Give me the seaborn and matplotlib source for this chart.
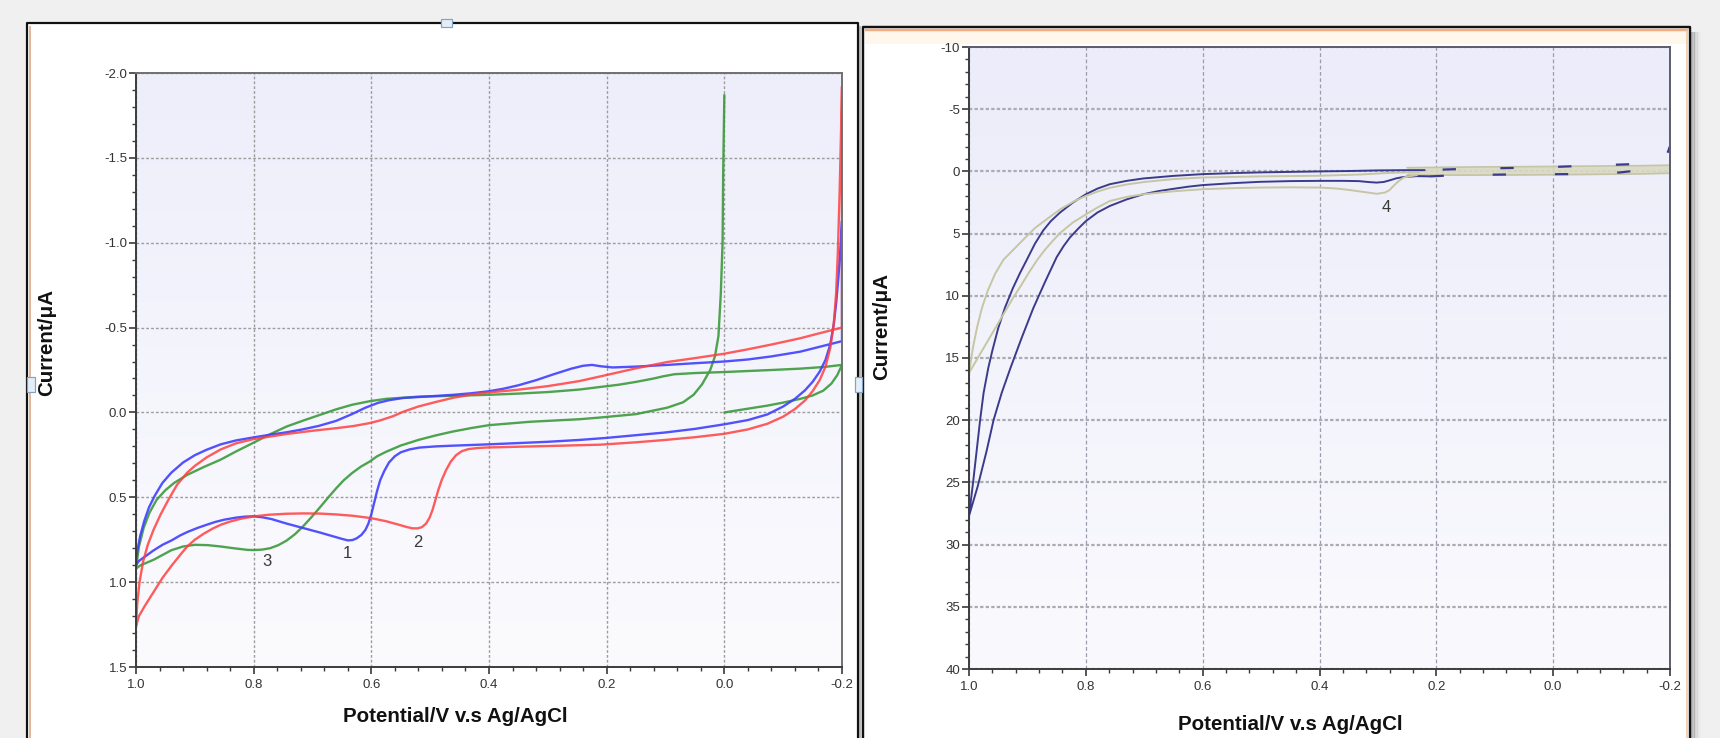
import numpy as np
import matplotlib
matplotlib.use("Agg")
import matplotlib.pyplot as plt
import seaborn as sns
from matplotlib.patches import Rectangle
from matplotlib.lines import Line2D
from matplotlib.ticker import MultipleLocator
from matplotlib.colors import LinearSegmentedColormap

# ---------------------------------------------------------------- data
# Each branch: rows of (potential / V vs Ag/AgCl, current / uA), in sweep order.

# Left panel, curve 1 (blue)
blue_forward = np.array([
    [1.000, 0.900], [0.995, 0.875], [0.985, 0.850], [0.971, 0.815], [0.955, 0.780],
    [0.940, 0.755], [0.925, 0.725], [0.913, 0.705], [0.895, 0.680], [0.880, 0.662],
    [0.865, 0.645], [0.850, 0.632], [0.830, 0.620], [0.815, 0.614], [0.800, 0.612],
    [0.785, 0.618], [0.770, 0.628], [0.744, 0.655], [0.715, 0.682], [0.687, 0.708],
    [0.665, 0.730], [0.650, 0.745], [0.640, 0.754], [0.632, 0.752], [0.625, 0.742],
    [0.617, 0.722], [0.610, 0.692], [0.605, 0.655], [0.600, 0.600], [0.595, 0.530],
    [0.590, 0.460], [0.585, 0.400], [0.578, 0.345], [0.570, 0.295], [0.560, 0.258],
    [0.550, 0.235], [0.535, 0.218], [0.518, 0.207], [0.490, 0.200], [0.462, 0.196],
    [0.400, 0.188], [0.300, 0.173], [0.246, 0.162], [0.200, 0.150], [0.100, 0.118],
    [0.050, 0.097], [0.000, 0.070], [-0.040, 0.045], [-0.073, 0.012], [-0.100, -0.035],
    [-0.120, -0.080], [-0.137, -0.130], [-0.150, -0.180], [-0.162, -0.240], [-0.172, -0.310],
    [-0.180, -0.400], [-0.186, -0.520], [-0.190, -0.640], [-0.194, -0.800], [-0.197, -0.950],
    [-0.200, -1.130]])
blue_reverse = np.array([
    [-0.200, -0.420], [-0.160, -0.385], [-0.129, -0.358], [-0.080, -0.330], [-0.040, -0.312],
    [0.000, -0.300], [0.050, -0.290], [0.097, -0.280], [0.150, -0.270], [0.190, -0.265],
    [0.210, -0.272], [0.225, -0.280], [0.240, -0.275], [0.260, -0.258], [0.290, -0.225],
    [0.320, -0.190], [0.350, -0.160], [0.375, -0.140], [0.400, -0.125], [0.430, -0.113],
    [0.460, -0.104], [0.500, -0.095], [0.546, -0.085], [0.570, -0.072], [0.588, -0.057],
    [0.610, -0.028], [0.633, 0.010], [0.660, 0.050], [0.690, 0.080], [0.717, 0.100],
    [0.744, 0.117], [0.770, 0.130], [0.800, 0.147], [0.830, 0.165], [0.856, 0.188],
    [0.880, 0.220], [0.900, 0.252], [0.920, 0.295], [0.940, 0.355], [0.955, 0.415],
    [0.968, 0.490], [0.978, 0.560], [0.986, 0.640], [0.993, 0.730], [0.998, 0.820],
    [1.000, 0.880]])

# Left panel, curve 2 (red)
red_forward = np.array([
    [1.000, 1.260], [0.995, 1.200], [0.985, 1.140], [0.975, 1.085], [0.965, 1.030],
    [0.955, 0.975], [0.940, 0.905], [0.925, 0.840], [0.913, 0.790], [0.900, 0.750],
    [0.885, 0.715], [0.870, 0.685], [0.856, 0.662], [0.840, 0.643], [0.820, 0.625],
    [0.800, 0.613], [0.775, 0.603], [0.744, 0.597], [0.715, 0.595], [0.687, 0.596],
    [0.660, 0.601], [0.631, 0.609], [0.600, 0.623], [0.575, 0.641], [0.555, 0.660],
    [0.540, 0.675], [0.530, 0.683], [0.521, 0.683], [0.514, 0.676], [0.507, 0.655],
    [0.501, 0.620], [0.496, 0.575], [0.491, 0.515], [0.486, 0.455], [0.480, 0.395],
    [0.473, 0.340], [0.465, 0.290], [0.456, 0.252], [0.446, 0.228], [0.435, 0.216],
    [0.420, 0.210], [0.406, 0.207], [0.350, 0.202], [0.300, 0.198], [0.211, 0.190],
    [0.150, 0.176], [0.100, 0.162], [0.050, 0.146], [0.000, 0.126], [-0.040, 0.100],
    [-0.073, 0.067], [-0.100, 0.025], [-0.120, -0.020], [-0.137, -0.070], [-0.150, -0.125],
    [-0.162, -0.190], [-0.172, -0.270], [-0.180, -0.380], [-0.186, -0.520], [-0.190, -0.700],
    [-0.193, -0.950], [-0.196, -1.300], [-0.198, -1.600], [-0.200, -1.920]])
red_reverse = np.array([
    [-0.200, -0.500], [-0.160, -0.465], [-0.129, -0.437], [-0.080, -0.400], [-0.040, -0.372],
    [0.000, -0.346], [0.050, -0.320], [0.097, -0.297], [0.150, -0.260], [0.211, -0.212],
    [0.246, -0.185], [0.300, -0.155], [0.350, -0.134], [0.400, -0.118], [0.430, -0.105],
    [0.460, -0.087], [0.490, -0.062], [0.520, -0.035], [0.545, -0.005], [0.563, 0.022],
    [0.585, 0.047], [0.603, 0.063], [0.630, 0.080], [0.660, 0.093], [0.700, 0.108],
    [0.744, 0.127], [0.800, 0.157], [0.830, 0.182], [0.856, 0.218], [0.880, 0.265],
    [0.900, 0.315], [0.913, 0.355], [0.930, 0.425], [0.945, 0.515], [0.958, 0.600],
    [0.970, 0.690], [0.980, 0.780], [0.988, 0.880], [0.994, 1.000], [0.998, 1.130],
    [1.000, 1.260]])

# Left panel, curve 3 (green)
green_start = np.array([
    [0.000, 0.000], [-0.040, -0.022], [-0.073, -0.040], [-0.100, -0.058], [-0.129, -0.080],
    [-0.150, -0.100], [-0.168, -0.128], [-0.182, -0.170], [-0.192, -0.220], [-0.200, -0.280]])
green_reverse = np.array([
    [-0.200, -0.280], [-0.170, -0.268], [-0.129, -0.258], [-0.080, -0.250], [-0.040, -0.244],
    [0.000, -0.238], [0.050, -0.232], [0.085, -0.225], [0.105, -0.212], [0.120, -0.200],
    [0.150, -0.180], [0.180, -0.163], [0.211, -0.150], [0.246, -0.135], [0.300, -0.120],
    [0.350, -0.111], [0.400, -0.104], [0.460, -0.098], [0.520, -0.093], [0.575, -0.080],
    [0.603, -0.066], [0.633, -0.045], [0.660, -0.018], [0.687, 0.014], [0.715, 0.047],
    [0.744, 0.083], [0.770, 0.125], [0.800, 0.178], [0.830, 0.230], [0.856, 0.278],
    [0.885, 0.322], [0.913, 0.368], [0.935, 0.415], [0.950, 0.458], [0.965, 0.515],
    [0.977, 0.590], [0.987, 0.680], [0.995, 0.790], [1.000, 0.920]])
green_forward = np.array([
    [1.000, 0.920], [0.992, 0.900], [0.985, 0.890], [0.970, 0.868], [0.955, 0.840],
    [0.940, 0.812], [0.920, 0.790], [0.900, 0.780], [0.878, 0.782], [0.856, 0.790],
    [0.830, 0.802], [0.810, 0.810], [0.800, 0.811], [0.785, 0.808], [0.772, 0.800],
    [0.758, 0.782], [0.744, 0.755], [0.730, 0.718], [0.717, 0.675], [0.702, 0.618],
    [0.687, 0.558], [0.673, 0.500], [0.660, 0.448], [0.647, 0.400], [0.633, 0.358],
    [0.618, 0.320], [0.603, 0.290], [0.590, 0.258], [0.575, 0.232], [0.550, 0.195],
    [0.520, 0.162], [0.490, 0.135], [0.462, 0.113], [0.430, 0.092], [0.400, 0.075],
    [0.330, 0.055], [0.246, 0.040], [0.211, 0.030], [0.150, 0.010], [0.097, -0.028],
    [0.070, -0.060], [0.052, -0.105], [0.038, -0.165], [0.024, -0.250], [0.016, -0.330],
    [0.010, -0.450], [0.006, -0.700], [0.003, -1.000], [0.002, -1.400], [0.000, -1.870]])

# Right panel, navy curve
navy_upper = np.array([
    [0.220, -0.10], [0.250, -0.10], [0.300, -0.08], [0.350, -0.03], [0.400, 0.00],
    [0.450, 0.04], [0.503, 0.08], [0.550, 0.14], [0.600, 0.22], [0.650, 0.36],
    [0.702, 0.57], [0.730, 0.76], [0.759, 1.03], [0.780, 1.38], [0.800, 1.84],
    [0.822, 2.50], [0.844, 3.30], [0.860, 4.00], [0.873, 4.75], [0.887, 5.80],
    [0.901, 7.10], [0.913, 8.20], [0.925, 9.40], [0.938, 10.90], [0.950, 12.60],
    [0.960, 14.40], [0.967, 15.80], [0.975, 17.80], [0.981, 20.00], [0.987, 22.50],
    [0.993, 25.00], [1.000, 27.70]])
navy_lower = np.array([
    [1.000, 27.70], [0.985, 25.30], [0.970, 22.50], [0.958, 20.00], [0.944, 17.80],
    [0.929, 15.80], [0.910, 13.40], [0.890, 11.00], [0.870, 8.90], [0.850, 6.90],
    [0.838, 6.00], [0.827, 5.30], [0.813, 4.60], [0.800, 4.00], [0.780, 3.30],
    [0.759, 2.78], [0.730, 2.25], [0.702, 1.84], [0.675, 1.58], [0.650, 1.40],
    [0.625, 1.23], [0.600, 1.10], [0.550, 0.95], [0.503, 0.84], [0.450, 0.78],
    [0.400, 0.76], [0.360, 0.76], [0.333, 0.78], [0.315, 0.86], [0.302, 0.90],
    [0.290, 0.85], [0.280, 0.72], [0.268, 0.55], [0.256, 0.45], [0.233, 0.38],
    [0.210, 0.40]])
navy_tail_lower = np.array([
    [0.210, 0.40], [0.159, 0.29], [0.056, 0.24], [-0.058, 0.21], [-0.115, 0.08],
    [-0.160, -0.16], [-0.185, -0.45], [-0.195, -1.00], [-0.200, -2.00]])
navy_tail_upper = np.array([
    [-0.200, -2.00], [-0.190, -0.80], [-0.140, -0.59], [-0.069, -0.48], [0.019, -0.32],
    [0.145, -0.21], [0.220, -0.10]])

# Right panel, khaki curve
khaki_upper = np.array([
    [0.230, 0.05], [0.280, 0.12], [0.330, 0.25], [0.400, 0.35], [0.500, 0.40],
    [0.600, 0.49], [0.650, 0.62], [0.700, 0.85], [0.730, 1.05], [0.759, 1.32],
    [0.780, 1.62], [0.800, 1.97], [0.820, 2.40], [0.844, 3.05], [0.870, 3.95],
    [0.887, 4.55], [0.901, 5.20], [0.920, 6.10], [0.941, 7.10], [0.955, 8.20],
    [0.968, 9.60], [0.978, 11.00], [0.986, 12.50], [0.993, 14.10], [1.000, 16.20]])
khaki_lower = np.array([
    [1.000, 16.20], [0.985, 15.00], [0.970, 13.80], [0.955, 12.60], [0.940, 11.40],
    [0.925, 10.20], [0.910, 9.10], [0.897, 8.10], [0.883, 7.10], [0.870, 6.30],
    [0.857, 5.60], [0.844, 4.95], [0.822, 4.10], [0.800, 3.46], [0.780, 2.90],
    [0.759, 2.38], [0.730, 2.05], [0.702, 1.84], [0.650, 1.60], [0.600, 1.43],
    [0.550, 1.35], [0.503, 1.30], [0.450, 1.28], [0.400, 1.30], [0.370, 1.38],
    [0.348, 1.50], [0.325, 1.65], [0.302, 1.80], [0.288, 1.70], [0.280, 1.50],
    [0.273, 1.15], [0.265, 0.80], [0.256, 0.50], [0.245, 0.38], [0.233, 0.30]])
khaki_band_E = [0.250, 0.150, 0.050, -0.050, -0.150, -0.200]
khaki_band_top = [-0.30, -0.35, -0.38, -0.42, -0.46, -0.50]
khaki_band_bottom = [0.30, 0.30, 0.28, 0.25, 0.20, 0.15]

# axis ticks
x_ticks = [1.0, 0.8, 0.6, 0.4, 0.2, 0.0, -0.2]
x_labels = ["1.0", "0.8", "0.6", "0.4", "0.2", "0.0", "-0.2"]
left_yticks = [-2.0, -1.5, -1.0, -0.5, 0.0, 0.5, 1.0, 1.5]
left_ylabels = ["-2.0", "-1.5", "-1.0", "-0.5", "0.0", "0.5", "1.0", "1.5"]
right_yticks = [-10, -5, 0, 5, 10, 15, 20, 25, 30, 35, 40]
right_ylabels = ["-10", "-5", "0", "5", "10", "15", "20", "25", "30", "35", "40"]

peak_labels_left = [("1", 0.640, 0.83), ("2", 0.521, 0.768), ("3", 0.778, 0.88)]
peak_labels_right = [("4", 0.286, 2.94)]

# ---------------------------------------------------------------- figure
sns.set_theme(style="white")
plt.rcParams['font.family'] = ['Liberation Sans', 'DejaVu Sans']

W, H = 1720, 738
fig = plt.figure(figsize=(W / 100, H / 100), dpi=100)
fig.patch.set_facecolor('#f0f0f0')


def fx(x):
    return x / W


def fy(y):
    return 1 - y / H


def px(n):
    return n * 0.72


def fig_line(xs, ys, color, lw, z=-4):
    fig.add_artist(Line2D([fx(v) for v in xs], [fy(v) for v in ys],
                          transform=fig.transFigure, color=color,
                          lw=px(lw), zorder=z, solid_capstyle='butt'))


def fig_rect(x0, y0, x1, y1, color, z=-5, edge='none', lw=0):
    fig.add_artist(Rectangle((fx(x0), fy(y1)), fx(x1) - fx(x0), fy(y0) - fy(y1),
                             transform=fig.transFigure, facecolor=color,
                             edgecolor=edge, lw=px(lw), zorder=z))


# left card
fig_rect(27, 23, 858, 738, 'white')
fig_line([860, 860], [26, 738], '#bdbdbd', 2)
fig_line([27, 27, 858, 858], [738, 23, 23, 738], '#111111', 2.2)
fig_line([30, 30], [26, 738], '#d9a27c', 1.5)

# right card with soft shadow
for i, a in enumerate([0.45, 0.32, 0.22, 0.14, 0.08, 0.04]):
    fig_line([1692 + i * 1.5, 1692 + i * 1.5], [32, 738], (0.35, 0.35, 0.35, a), 1.6)
fig_rect(863, 27, 1690, 738, 'white')
fig_rect(865, 31, 1688, 44, '#fff7ec')
fig_line([865, 1688], [30, 30], '#f3ae80', 2.5)
fig_line([1687, 1687], [30, 738], '#f2c49c', 1.5)
fig_line([863, 863, 1690, 1690], [738, 27, 27, 738], '#111111', 2.4)

# selection handles on the left card
for (hx0, hy0, hx1, hy1) in [(441, 19, 452, 27), (27, 377, 35, 392), (855, 377, 862, 392)]:
    fig_rect(hx0, hy0, hx1, hy1, '#e4eef8', z=-3, edge='#86a2c2', lw=1.2)

ax1 = fig.add_axes([fx(136), fy(667), fx(842) - fx(136), fy(73) - fy(667)])
ax2 = fig.add_axes([fx(969), fy(669), fx(1670) - fx(969), fy(47) - fy(669)])


def paint_gradient(ax, top, bottom):
    grad = np.linspace(0, 1, 256)[:, None]
    cmap = LinearSegmentedColormap.from_list('panel_bg', [top, bottom])
    ax.imshow(grad, extent=(0, 1, 0, 1), transform=ax.transAxes, aspect='auto',
              cmap=cmap, zorder=-10, interpolation='bilinear')


def style_axes(ax, ylim, yticks, ylabels, yminor, hgrid, vgrid, spine_col):
    ax.set_facecolor('none')
    ax.set_xlim(1.0, -0.2)
    ax.set_ylim(*ylim)
    ax.set_xticks(x_ticks)
    ax.set_xticklabels(x_labels)
    ax.set_yticks(yticks)
    ax.set_yticklabels(ylabels)
    ax.xaxis.set_minor_locator(MultipleLocator(0.04))
    ax.yaxis.set_minor_locator(MultipleLocator(yminor))
    ax.tick_params(which='both', bottom=True, left=True, top=False, right=False,
                   direction='out', color='#3a3a3a')
    ax.tick_params(which='major', length=5, width=1.2, labelsize=9.5,
                   labelcolor='#333333')
    ax.tick_params(which='minor', length=3, width=1.0)
    ax.tick_params(axis='y', pad=1.5)
    ax.tick_params(axis='x', pad=4)
    ax.yaxis.grid(True, **hgrid)
    ax.xaxis.grid(True, **vgrid)
    ax.set_axisbelow(True)
    for side, sp in ax.spines.items():
        sp.set_visible(True)
        sp.set_color(spine_col if side in ('top', 'right') else '#3c3c3c')
        sp.set_linewidth(1.4)


def trace(ax, branches, color, **kw):
    pts = np.vstack(branches)
    sns.lineplot(x=pts[:, 0], y=pts[:, 1], sort=False, estimator=None,
                 color=color, ax=ax, **kw)


def axis_titles(ax, xcoords, ycoords):
    ax.set_xlabel("Potential/V v.s Ag/AgCl", fontsize=14.8, fontweight='bold',
                  color='#111111')
    ax.set_ylabel("Current/μA", fontsize=14.8, fontweight='bold', color='#111111')
    ax.xaxis.set_label_coords(*xcoords)
    ax.yaxis.set_label_coords(*ycoords)


# ---------------------------------------------------------------- left panel
paint_gradient(ax1, '#eeeefb', '#fbfbfe')
grid_l = dict(color='#9d9d9d', lw=1.0, ls=(0, (2, 1.5)))
style_axes(ax1, (1.5, -2.0), left_yticks, left_ylabels, 0.1, grid_l, grid_l, '#707070')

trace(ax1, [green_start, green_reverse, green_forward], '#3c9a3c', alpha=0.9, linewidth=1.7)
trace(ax1, [blue_forward, blue_reverse], '#3f3fff', alpha=0.9, linewidth=1.7)
trace(ax1, [red_forward, red_reverse], '#ff4040', alpha=0.85, linewidth=1.7)

for txt, ex, iy in peak_labels_left:
    ax1.text(ex, iy, txt, ha='center', va='center', fontsize=12, color='#3a3a3a')

axis_titles(ax1, (0.452, -0.067), (-0.113, 0.547))

# ---------------------------------------------------------------- right panel
paint_gradient(ax2, '#ececfa', '#fafafe')
hgrid_r = dict(color='#ababb3', lw=1.6, ls=(0, (1.5, 1)))
vgrid_r = dict(color='#9c9cac', lw=0.9, ls=(0, (3, 2)))
style_axes(ax2, (40, -10), right_yticks, right_ylabels, 1, hgrid_r, vgrid_r, '#5c5c6a')

ax2.fill_between(khaki_band_E, khaki_band_top, khaki_band_bottom,
                 color='#d9d9c2', alpha=0.9, lw=0, zorder=1.5)
kw_r = dict(sort=False, estimator=None, ax=ax2)
sns.lineplot(x=khaki_band_E, y=khaki_band_top, color='#c4c4a6', linewidth=1.2, **kw_r)
sns.lineplot(x=khaki_band_E, y=khaki_band_bottom, color='#c4c4a6', linewidth=1.2, **kw_r)
trace(ax2, [navy_tail_lower], '#3b3b8c', linewidth=1.6, linestyle=(0, (6, 22)))
trace(ax2, [navy_tail_upper], '#3b3b8c', linewidth=1.6, linestyle=(3, (6, 20)))
trace(ax2, [navy_upper, navy_lower], '#3b3b8c', linewidth=1.4)
trace(ax2, [khaki_upper, khaki_lower], '#c6c6a4', linewidth=1.4)

for txt, ex, iy in peak_labels_right:
    ax2.text(ex, iy, txt, ha='center', va='center', fontsize=12, color='#3a3a3a')

axis_titles(ax2, (0.459, -0.074), (-0.111, 0.55))

fig.savefig("out.png", dpi=100, facecolor=fig.get_facecolor())
